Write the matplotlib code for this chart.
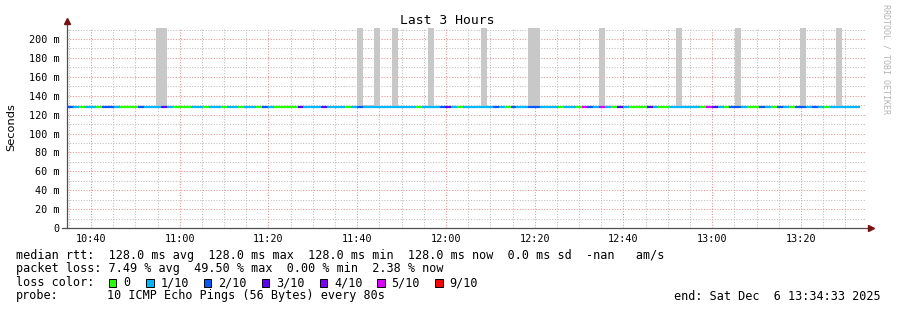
"""
SmokePing style chart: median rtt over the last 3 hours, coloured by packet loss
"""

import matplotlib.pyplot as plt
from matplotlib.patches import Rectangle

W, H = 897, 310

# time in minutes after 10:34:33, one step = 80 s
step_min = 80 / 60
x_ticks = [5.45, 25.45, 45.45, 65.45, 85.45, 105.45, 125.45, 145.45, 165.45]
x_labels = ['10:40', '11:00', '11:20', '11:40', '12:00', '12:20', '12:40', '13:00', '13:20']
y_ticks = [0, 20, 40, 60, 80, 100, 120, 140, 160, 180, 200]
y_labels = ['0'] + ['%d m' % v for v in y_ticks[1:]]

# median rtt (ms) is flat
median_ms = 128.0

# loss level (tenths) for each 80 s step
loss = [2, 1, 0, 1, 1, 0, 2, 2, 1, 0, 0, 0, 2, 1, 1, 1, 3, 1, 0, 0,
        0, 1, 1, 0, 1, 1, 0, 1, 1, 0, 1, 1,
        0, 2, 1, 0, 0, 0, 0, 3, 1, 1, 1, 3, 1, 1, 1, 0, 1,
        2, 1, 1, 1, 1, 1, 1, 1, 1, 1, 0, 1, 1, 1, 2, 3, 1, 0, 1, 1, 1, 1, 1,
        2, 1, 0, 2, 1, 1, 2, 2, 1, 1, 1, 0, 1, 1, 0, 5, 2, 1, 5, 1, 0, 3, 1, 0,
        0, 0, 3, 1,
        0, 0, 1, 1, 1, 1, 1, 0, 5, 3, 1, 0, 2, 2, 1, 0, 0, 2, 1, 0, 2, 1, 0, 2,
        2, 1, 2, 1, 0, 1, 1, 1, 1, 1]

# smoke: steps whose slowest ping goes above the median
smoke_idx = [15, 16, 49, 50, 51, 52, 55, 61, 70, 78, 79, 90, 103, 113, 124, 130]
smoke_max = [500, 500, 500, 130, 130, 500, 500, 500, 500, 500, 500, 500, 500, 500, 500, 500]

loss_keys = [0, 1, 2, 3, 4, 5, 9]
loss_names = ['0', '1/10', '2/10', '3/10', '4/10', '5/10', '9/10']
loss_colors = ['#26ff00', '#00b8ff', '#0059ff', '#5e00ff', '#7e00ff', '#dd00ff', '#ff0000']
color_of = dict(zip(loss_keys, loss_colors))


def fpos(x, y):
    return x / W, 1 - y / H


def main():
    plt.rcParams['font.family'] = ['DejaVu Sans Mono']
    fig = plt.figure(figsize=(W / 100, H / 100), dpi=100)
    fig.patch.set_facecolor('white')

    left, right, top, bottom = 66.8, 865.5, 27.7, 228
    ax = fig.add_axes([left / W, 1 - bottom / H, (right - left) / W, (bottom - top) / H])
    ax.set_xlim(0, 180)
    ax.set_ylim(0, 212)
    for s in ax.spines.values():
        s.set_visible(False)

    # grid
    minor_c, major_c = '#bdbdbd', '#ee9090'
    for m in range(0, 181):
        t = m + 0.45
        if t > 180:
            break
        if (m % 5) == 0:
            c = major_c if (m - 5) % 20 == 0 else minor_c
            ax.axvline(t, color=c, lw=0.75, ls=(0, (1, 1.6)), zorder=0)
    for v in range(10, 211, 10):
        c = major_c if v % 20 == 0 else minor_c
        ax.axhline(v, color=c, lw=0.75, ls=(0, (1, 1.6)), zorder=0)

    # smoke
    for i, top_v in zip(smoke_idx, smoke_max):
        ax.bar(i * step_min, top_v - median_ms + 1, bottom=median_ms - 1, width=step_min,
               align='edge', color='#c8c8c8', linewidth=0, zorder=1)

    # median line coloured by loss
    starts = [i * step_min for i in range(len(loss))]
    ends = [(i + 1) * step_min for i in range(len(loss))]
    ax.hlines([median_ms] * len(loss), starts, ends, colors=[color_of[l] for l in loss],
              linewidth=1.6, zorder=3, capstyle='butt')

    # axes lines and arrows
    ax.plot([-1.1, 181], [0, 0], color='#505050', lw=0.9, clip_on=False, zorder=4)
    ax.plot([0, 0], [0, 219], color='#505050', lw=0.9, clip_on=False, zorder=4)
    ax.plot([181.3], [0], marker='>', ms=4.3, color='#7a1010', clip_on=False, zorder=5)
    ax.plot([0], [219.5], marker='^', ms=4.3, color='#7a1010', clip_on=False, zorder=5)

    ax.set_xticks(x_ticks)
    ax.set_xticklabels(x_labels, fontsize=7.3)
    ax.set_yticks(y_ticks)
    ax.set_yticklabels(y_labels, fontsize=7.3)
    ax.tick_params(length=0)
    ax.tick_params(axis='x', pad=4.5)
    ax.tick_params(axis='y', pad=5)

    fig.text(*fpos(447, 20), 'Last 3 Hours', ha='center', va='center', fontsize=9.4)
    fig.text(*fpos(11, 127), 'Seconds', ha='center', va='center', rotation=90,
             fontsize=8.2, family='DejaVu Sans')
    fig.text(*fpos(886, 4), 'RRDTOOL / TOBI OETIKER', ha='center', va='top', rotation=-90,
             fontsize=6.0, color='#b4b4b4')

    fs = 8.5
    fig.text(*fpos(16, 255), 'median rtt:  128.0 ms avg  128.0 ms max  128.0 ms min  '
             '128.0 ms now  0.0 ms sd  -nan   am/s', va='center', fontsize=fs)
    fig.text(*fpos(16, 268.5), 'packet loss: 7.49 % avg  49.50 % max  0.00 % min  2.38 % now',
             va='center', fontsize=fs)
    fig.text(*fpos(16, 282.5), 'loss color:', va='center', fontsize=fs)
    sq_x = [108.5, 146, 203.5, 261.5, 319.5, 377, 435]
    for sx, name, col in zip(sq_x, loss_names, loss_colors):
        x0, y0 = fpos(sx, 286.5)
        fig.patches.append(Rectangle((x0, y0), 7.5 / W, 7.5 / H, transform=fig.transFigure,
                                     facecolor=col, edgecolor='black', linewidth=0.7))
        fig.text(*fpos(sx + 14.5, 282.5), name, va='center', fontsize=fs)
    fig.text(*fpos(16, 296), 'probe:', va='center', fontsize=fs)
    fig.text(*fpos(107, 296), '10 ICMP Echo Pings (56 Bytes) every 80s', va='center', fontsize=fs)
    fig.text(*fpos(881, 296), 'end: Sat Dec  6 13:34:33 2025', ha='right', va='center', fontsize=fs)

    fig.savefig('out.png', dpi=100)
    plt.close(fig)


if __name__ == "__main__":
    main()
